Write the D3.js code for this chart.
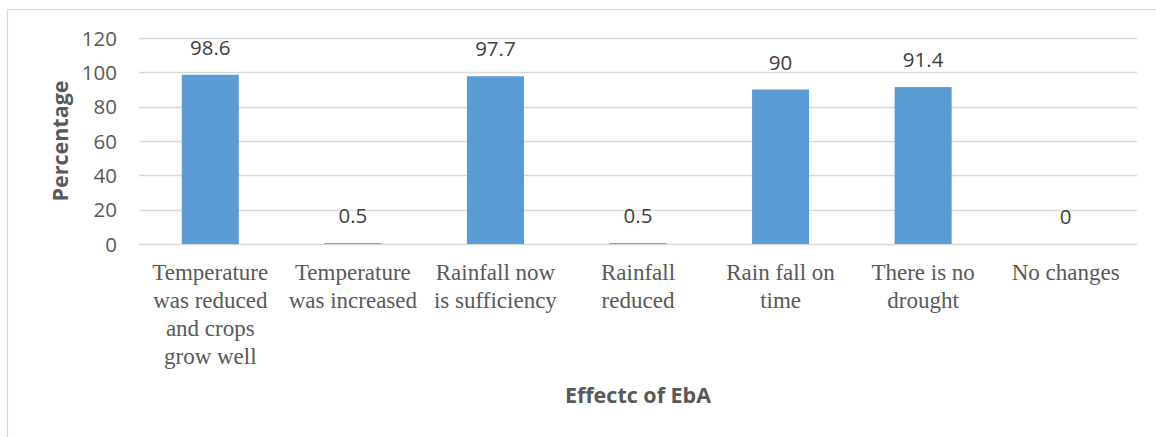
<!DOCTYPE html>
<html>
<head>
<meta charset="utf-8">
<script src="https://cdn.jsdelivr.net/npm/d3@7/dist/d3.min.js"></script>
<style>
  html, body { margin: 0; padding: 0; background: #fff; }
  svg { display: block; }
  .sans { font-family: "Open Sans", "Liberation Sans", sans-serif; }
  .serif { font-family: "Liberation Serif", "Times New Roman", "DejaVu Serif", serif; }
</style>
</head>
<body>
<svg id="chart" width="1156" height="437"></svg>
<script>
// Effects of EbA, percentage of respondents
const categories = [
  ["Temperature", "was reduced", "and crops", "grow well"],
  ["Temperature", "was increased"],
  ["Rainfall now", "is sufficiency"],
  ["Rainfall", "reduced"],
  ["Rain fall on", "time"],
  ["There is no", "drought"],
  ["No changes"]
];
const values = [98.6, 0.5, 97.7, 0.5, 90, 91.4, 0];
const yTicks = [0, 20, 40, 60, 80, 100, 120];

const svg = d3.select("#chart");
const margin = { left: 139, right: 1137, top: 38, bottom: 244 };

// chart frame
svg.append("rect")
  .attr("x", 7.5).attr("y", 9.5)
  .attr("width", 1160).attr("height", 440)
  .attr("fill", "none").attr("stroke", "#d9d9d9").attr("stroke-width", 1.2);

const x = d3.scaleBand()
  .domain(d3.range(categories.length))
  .range([margin.left, margin.right])
  .paddingInner(0.6).paddingOuter(0.3);

const y = d3.scaleLinear().domain([0, 120]).range([margin.bottom, margin.top]);

// gridlines
svg.append("g")
  .selectAll("line")
  .data(yTicks)
  .join("line")
  .attr("x1", margin.left).attr("x2", margin.right)
  .attr("y1", d => Math.round(y(d)) + 0.5).attr("y2", d => Math.round(y(d)) + 0.5)
  .attr("stroke", "#d9d9d9").attr("stroke-width", 1.5);

// y axis tick labels
const yAxis = d3.axisLeft(y).tickValues(yTicks).tickSize(0).tickPadding(0);
const yg = svg.append("g")
  .attr("transform", `translate(${117},0)`)
  .call(yAxis);
yg.select(".domain").remove();
yg.attr("font-family", null).attr("font-size", null);
yg.selectAll("text")
  .attr("class", "sans")
  .attr("fill", "#595959")
  .style("font-size", "20.5px")
  .attr("dy", "0.35em");

// bars
svg.append("g")
  .selectAll("rect")
  .data(values)
  .join("rect")
  .attr("x", (d, i) => x(i))
  .attr("width", x.bandwidth())
  .attr("y", d => y(d))
  .attr("height", d => y(0) - y(d))
  .attr("fill", "#5b9bd5");

// data labels
svg.append("g")
  .selectAll("text")
  .data(values)
  .join("text")
  .attr("class", "sans")
  .attr("x", (d, i) => x(i) + x.bandwidth() / 2)
  .attr("y", d => y(d) - 20)
  .attr("text-anchor", "middle")
  .attr("fill", "#404040")
  .style("font-size", "20.5px")
  .text(d => d);

// category labels
const cat = svg.append("g")
  .selectAll("text")
  .data(categories)
  .join("text")
  .attr("class", "serif")
  .attr("x", (d, i) => x(i) + x.bandwidth() / 2)
  .attr("y", 280)
  .attr("text-anchor", "middle")
  .attr("fill", "#595959")
  .style("font-size", "23px");
cat.selectAll("tspan")
  .data(d => d)
  .join("tspan")
  .attr("x", function () { return d3.select(this.parentNode).attr("x"); })
  .attr("dy", (d, j) => j === 0 ? 0 : 28)
  .text(d => d);

// axis titles
svg.append("text")
  .attr("class", "sans")
  .attr("x", 638).attr("y", 403)
  .attr("text-anchor", "middle")
  .attr("fill", "#595959")
  .style("font-weight", "bold")
  .style("font-size", "21.5px")
  .text("Effectc of EbA");

svg.append("text")
  .attr("class", "sans")
  .attr("transform", "translate(68,141) rotate(-90)")
  .attr("text-anchor", "middle")
  .attr("fill", "#595959")
  .style("font-weight", "bold")
  .style("font-size", "21.5px")
  .text("Percentage");
</script>
</body>
</html>
